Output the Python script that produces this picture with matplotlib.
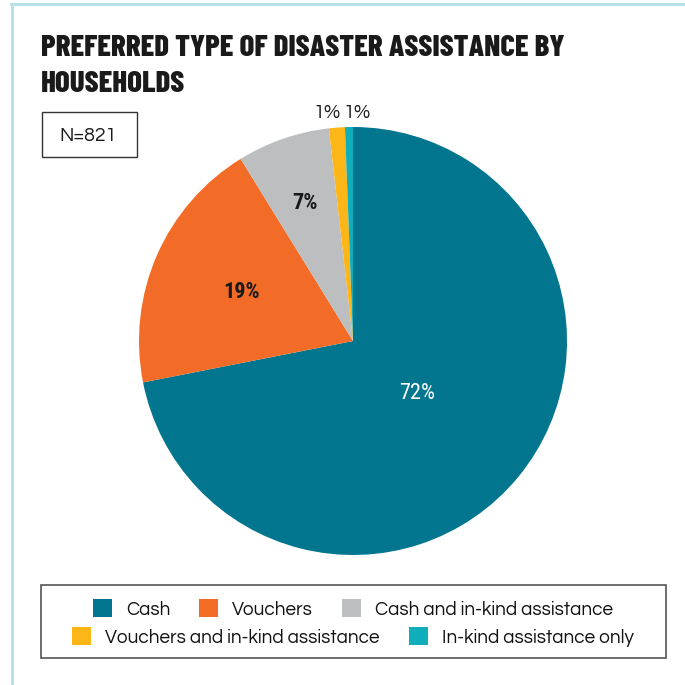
import matplotlib
matplotlib.use('Agg')
import matplotlib.pyplot as plt
from matplotlib.patches import Patch, Rectangle
from matplotlib.lines import Line2D
import numpy as np

# data
categories = ['Cash', 'Vouchers', 'Cash and in-kind assistance',
              'Vouchers and in-kind assistance', 'In-kind assistance only']
shares = [71.9, 19.3, 7.0, 1.2, 0.6]
colors = ['#02758f', '#f26c27', '#bcbec0', '#fdb617', '#10adbb']
title = 'PREFERRED TYPE OF DISASTER ASSISTANCE BY\nHOUSEHOLDS'
sample_note = 'N=821'

cond = ['Barlow Condensed', 'Roboto Condensed', 'Archivo Narrow', 'DejaVu Sans']
pct_font = ['Roboto Condensed', 'Barlow Condensed', 'DejaVu Sans']
body = ['Questrial', 'Lato', 'DejaVu Sans']

W = 685.0
fig = plt.figure(figsize=(6.85, 6.85), dpi=100)
fig.patch.set_facecolor('white')
r = fig.canvas.get_renderer()


def fx(px):
    return px / W


def fy(py):
    return 1 - py / W


def fit(txt, target_px):
    # scale font size so the text spans target_px
    w = txt.get_window_extent(r).width
    txt.set_fontsize(txt.get_fontsize() * target_px / w)


# light frame lines (top and left)
fig.add_artist(Line2D([fx(11), 1], [fy(4), fy(4)], color='#b8e2ea', lw=2.2))
fig.add_artist(Line2D([fx(12.5), fx(12.5)], [0, fy(4)], color='#b8e2ea', lw=2.2))

t1 = fig.text(fx(41), fy(35), title.split('\n')[0], family=cond, weight=800,
              fontsize=22, color='#1a1a1a', va='top', ha='left')
fit(t1, 525)
t2 = fig.text(fx(41), fy(71), title.split('\n')[1], family=cond, weight=800,
              fontsize=t1.get_fontsize(), color='#1a1a1a', va='top', ha='left')

# N box
fig.add_artist(Rectangle((fx(41.5), fy(157)), fx(95.5), 45 / W, fill=False,
                         ec='#333333', lw=1, transform=fig.transFigure))
fig.text(fx(88), fy(136), sample_note, family=body, fontsize=14,
         ha='center', va='center', color='#1a1a1a')

ax = fig.add_axes([fx(139), 130 / W, 428 / W, 428 / W])
wedges, texts, autotexts = ax.pie(shares, colors=colors, startangle=90,
                                  counterclock=False, autopct='%.0f%%',
                                  wedgeprops=dict(linewidth=0))
ax.set_xlim(-1, 1)
ax.set_ylim(-1, 1)
ax.set_aspect('equal')

# label placement per wedge
dist = [0.39, 0.57, 0.68]
for i, (w, t) in enumerate(zip(wedges, autotexts)):
    ang = np.deg2rad((w.theta1 + w.theta2) / 2)
    if i < 3:
        t.set_position((dist[i] * np.cos(ang), dist[i] * np.sin(ang)))
        t.set_family(pct_font)
        t.set_fontsize(16)
        t.set_weight('bold' if i > 0 else 'normal')
        t.set_color('white' if i == 0 else '#1a1a1a')
    else:
        # small slices: labels sit above the pie, side by side
        off = -0.12 if i == 3 else 0.02
        t.set_position((off, 1.065))
        t.set_family(body)
        t.set_fontsize(14)
        t.set_color('#1a1a1a')
        t.set_ha('center')

# legend box
fig.add_artist(Rectangle((fx(40.5), fy(658)), fx(625.5), 73 / W, fill=False,
                         ec='#555555', lw=1.2, transform=fig.transFigure))
handles = [Patch(facecolor=c, edgecolor='none') for c in colors]


def make_legend(hs, labels, ncol, y, size):
    return fig.legend(hs, labels, ncol=ncol, loc='center',
                      bbox_to_anchor=(fx(353), fy(y)), frameon=False,
                      prop={'family': body, 'size': size},
                      handlelength=1.0, handleheight=1.0, handletextpad=0.75,
                      columnspacing=1.5, borderpad=0, borderaxespad=0,
                      labelcolor='#111111')


leg1 = make_legend(handles[:3], categories[:3], 3, 609, 14)
w1 = leg1.get_window_extent(r).width
leg1.remove()
leg1 = make_legend(handles[:3], categories[:3], 3, 609, 14 * 522 / w1)
leg2 = make_legend(handles[3:], categories[3:], 2, 637, 14 * 522 / w1)

fig.savefig('out.png', dpi=100)
